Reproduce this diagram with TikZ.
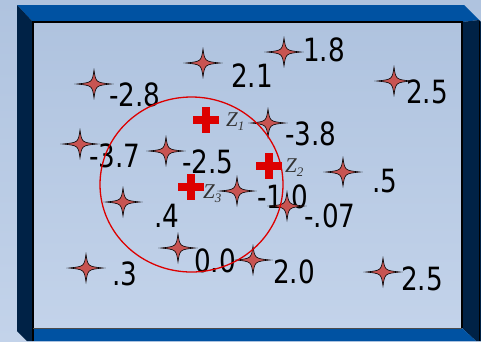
\documentclass[tikz,border=0pt]{standalone}
\usepackage{fontspec}
\setmainfont{DejaVu Sans}[FakeStretch=0.82]
\newfontfamily\zfont{Liberation Serif}
\definecolor{bgtop}{HTML}{AFC3DF}
\definecolor{bgbot}{HTML}{C3D3EA}
\definecolor{bevelblue}{HTML}{0052A2}
\definecolor{bevelnavy}{HTML}{002246}
\definecolor{starred}{HTML}{C85452}
\definecolor{crossred}{HTML}{DD0000}
\definecolor{zgray}{HTML}{333333}
\tikzset{
  val/.style={anchor=base west, inner sep=0pt, font=\fontsize{32}{32}\selectfont},
  zlab/.style={anchor=base west, inner sep=0pt, text=zgray, font=\zfont\itshape\fontsize{21}{21}\selectfont},
  starshape/.style={fill=starred, draw=black, line width=0.6pt},
  star4/.pic={\path[starshape] (17,0) .. controls (1.8,1.6) .. (0,14) .. controls (-1.8,1.6) .. (-17,0) .. controls (-1.8,-1.6) .. (0,-14) .. controls (1.8,-1.6) .. cycle;},
  redcross/.pic={\fill[crossred] (-13,-3.6) rectangle (13,3.6); \fill[crossred] (-3.6,-13) rectangle (3.6,13);},
}
\newcommand{\zsub}[1]{Z{\fontsize{13}{13}\selectfont\raisebox{-4pt}{#1}}}
\begin{document}
\begin{tikzpicture}[x=1pt,y=-1pt]
\useasboundingbox (0,0) rectangle (481,341);
% background
\shade[top color=bgtop, bottom color=bgbot] (0,0) rectangle (481,341);
% bevel frame
\fill[bevelblue] (17,5) -- (464,5) -- (479,20) -- (462,22) -- (33,22) -- cycle;
\fill[bevelnavy] (17,5) -- (33,22) -- (33,341) -- (27,341) -- (17,331) -- cycle;
\fill[bevelnavy] (462,22) -- (479,20) -- (481,22) -- (481,341) -- (476,341) -- (462,328) -- cycle;
\draw[black, line width=1.5pt] (479.5,21) -- (479.5,341);
\fill[bevelblue] (33,328) -- (462,328) -- (476,341) -- (33,341) -- cycle;
% inner panel
\shade[top color=bgtop, bottom color=bgbot] (33,22) rectangle (462,328);
\draw[black, line width=1.5pt] (33,341) -- (33,22) -- (462,22) -- (462,328);
\draw[black!70, line width=0.6pt] (33,328) -- (462,328);

% values
\node[val] (v1)  at (109,106) {-2.8};
\node[val] (v2)  at (231,87)  {2.1};
\node[val] (v3)  at (303,61)  {1.8};
\node[val] (v4)  at (406,103) {2.5};
\node[val] (v5)  at (89,167)  {-3.7};
\node[val] (v6)  at (182,173) {-2.5};
\node[val] (v7)  at (285,145) {-3.8};
\node[val] (v8)  at (372,192) {.5};
\node[val] (v9)  at (154,227) {.4};
\node[val] (v10) at (257,208) {-1.0};
\node[val] (v11) at (304,227) {-.07};
\node[val] (v12) at (194,272) {0.0};
\node[val] (v13) at (273,283) {2.0};
\node[val] (v14) at (112,285) {.3};
\node[val] (v15) at (401,290) {2.5};

% stars
\coordinate (s1) at (94,84);
\coordinate (s2) at (203,63);
\coordinate (s3) at (284,52);
\coordinate (s4) at (394,81);
\coordinate (s5) at (80,144);
\coordinate (s6) at (166,151);
\coordinate (s7) at (268,123);
\coordinate (s8) at (343,172);
\coordinate (s9) at (123,202);
\coordinate (s10) at (237,191);
\coordinate (s11) at (287,206);
\coordinate (s12) at (178,248);
\coordinate (s13) at (253,260);
\coordinate (s14) at (86,268);
\coordinate (s15) at (383,272);
\foreach \s in {s1,s2,s3,s4,s5,s6,s7,s8,s9,s10,s11,s12,s13,s14,s15}
  \pic at (\s) {star4};

% circle
\coordinate (cc) at (191.5,184.5);
\draw[crossred, line width=1.3pt] (cc) ellipse [x radius=91.5, y radius=87.5];

% centroids
\coordinate (c1) at (206,120);
\coordinate (c2) at (269,166);
\coordinate (c3) at (191,187);
\pic at (c1) {redcross};
\pic at (c2) {redcross};
\pic at (c3) {redcross};
\node[zlab] (z1) at (226,126) {\zsub{1}};
\node[zlab] (z2) at (285,172) {\zsub{2}};
\node[zlab] (z3) at (203,198) {\zsub{3}};
\end{tikzpicture}
\end{document}
